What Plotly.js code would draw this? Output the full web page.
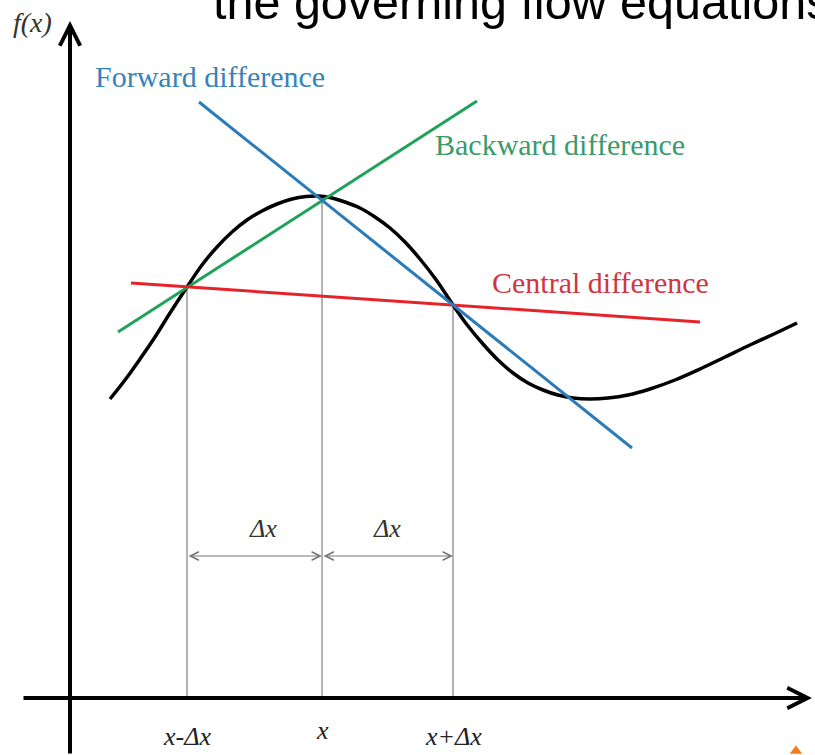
<!DOCTYPE html>
<html>
<head>
<meta charset="utf-8">
<script src="https://cdn.plot.ly/plotly-3.0.1.min.js"></script>
<style>html,body{margin:0;padding:0;background:#fff;}#chart{width:815px;height:755px;}</style>
</head>
<body>
<div id="chart"></div>
<script>
// ---- data (pixel-like coordinate frame, y grows downward) ----
const curveX = [110,125,140,155,170,187,202,217,232,247,262,277,292,306,318,330,345,360,375,390,405,420,437,453,468,483,498,513,528,543,558,573,590,608,628,650,675,700,725,750,775,797];
const curveY = [399,380,359,337,313,287,265,247,232,220,211,204,199,196.5,196,197.5,202,208,217,228,242,259,281,305,326,344,360,373,383,390,395,398,399,398,395,389,380,369,357,345,333.5,323];

const forwardX = [199, 632];
const forwardY = [102, 448];
const backwardX = [118, 477];
const backwardY = [332, 101];
const centralX = [131, 700];
const centralY = [283, 322];

const nodeX = [187, 322, 453];          // x-Δx, x, x+Δx
const nodeY = [287, 197, 305];          // f at those nodes
const tickLabels = ['x-Δx', 'x', 'x+Δx'];
const tickLabelY = [736, 730, 736];

const axisLevel = 698;                  // horizontal axis
const axisOriginX = 70;                 // vertical axis
const xAxisFrom = 22, xAxisTo = 812;
const yAxisFrom = 755, yAxisTo = 21;

const dimY = 556;                       // Δx dimension arrows
const dimLabels = ['Δx', 'Δx'];
const dimLabelX = [263, 387];
const dimLabelY = 528;

const lineNames = ['Forward difference', 'Backward difference', 'Central difference'];
const lineLabelX = [210, 560, 600];
const lineLabelY = [76, 144, 282];
const lineColors = ['#2c7bb9', '#1fa35a', '#e6232b'];
const labelColors = ['#3683b8', '#3a9a6b', '#cf3640'];

const headline = 'the governing flow equations';

const SERIF = '"Liberation Serif", "Times New Roman", Times, serif';
const SANS = '"Liberation Sans", Arial, Helvetica, sans-serif';

// ---- traces ----
const traces = [];
for (let i = 0; i < nodeX.length; i++) {
  traces.push({x:[nodeX[i], nodeX[i]], y:[nodeY[i], axisLevel], mode:'lines',
    line:{color:'#9a9a9a', width:1.5}, hoverinfo:'skip'});
}
traces.push({x:curveX, y:curveY, mode:'lines', line:{color:'#000', width:3.5, shape:'spline', smoothing:1}, hoverinfo:'skip'});
traces.push({x:backwardX, y:backwardY, mode:'lines', line:{color:lineColors[1], width:3}, hoverinfo:'skip'});
traces.push({x:centralX, y:centralY, mode:'lines', line:{color:lineColors[2], width:3}, hoverinfo:'skip'});
traces.push({x:forwardX, y:forwardY, mode:'lines', line:{color:lineColors[0], width:3}, hoverinfo:'skip'});
traces.push({x:[796], y:[751], mode:'markers', marker:{symbol:'triangle-up', size:11, color:'#f07d1e'}, hoverinfo:'skip'});

// ---- annotations ----
const ann = [];
ann.push({x:xAxisTo, y:axisLevel, ax:xAxisFrom, ay:axisLevel, xref:'x', yref:'y', axref:'x', ayref:'y',
  text:'', showarrow:true, arrowhead:5, arrowsize:1, arrowwidth:4, arrowcolor:'#000', standoff:0, startstandoff:0});
ann.push({x:axisOriginX, y:yAxisTo, ax:axisOriginX, ay:yAxisFrom, xref:'x', yref:'y', axref:'x', ayref:'y',
  text:'', showarrow:true, arrowhead:5, arrowsize:1, arrowwidth:4, arrowcolor:'#000', standoff:0, startstandoff:0});
for (let i = 0; i < 2; i++) {
  ann.push({x:nodeX[i+1], y:dimY, ax:nodeX[i], ay:dimY, xref:'x', yref:'y', axref:'x', ayref:'y',
    text:'', showarrow:true, arrowhead:5, startarrowhead:5, arrowside:'end+start', arrowsize:1.4, startarrowsize:1.4,
    arrowwidth:1.2, arrowcolor:'#777', standoff:0, startstandoff:0});
  ann.push({x:dimLabelX[i], y:dimLabelY, xref:'x', yref:'y', text:'<i>'+dimLabels[i]+'</i>', showarrow:false,
    font:{family:SERIF, size:26, color:'#333'}});
}
for (let i = 0; i < nodeX.length; i++) {
  ann.push({x:nodeX[i], y:tickLabelY[i], xref:'x', yref:'y', text:'<i>'+tickLabels[i]+'</i>', showarrow:false,
    font:{family:SERIF, size:26, color:'#222'}});
}
ann.push({x:32, y:22, xref:'x', yref:'y', text:'<i>f(x)</i>', showarrow:false,
  font:{family:SERIF, size:28, color:'#333'}});
ann.push({x:820, y:730, xref:'x', yref:'y', text:'<i>x</i>', showarrow:false,
  font:{family:SERIF, size:26, color:'#333'}});
for (let i = 0; i < 3; i++) {
  ann.push({x:lineLabelX[i], y:lineLabelY[i], xref:'x', yref:'y', text:lineNames[i], showarrow:false,
    font:{family:SERIF, size:30, color:labelColors[i]}});
}
ann.push({x:211, y:2, xref:'x', yref:'y', xanchor:'left', yanchor:'middle', text:headline, showarrow:false,
  font:{family:SANS, size:48.5, color:'#000'}});

const layout = {
  width:815, height:755,
  margin:{l:0, r:0, t:0, b:0, pad:0},
  paper_bgcolor:'#fff', plot_bgcolor:'#fff',
  showlegend:false,
  xaxis:{range:[0,815], visible:false, fixedrange:true},
  yaxis:{range:[755,0], visible:false, fixedrange:true},
  annotations:ann
};
Plotly.newPlot('chart', traces, layout, {displayModeBar:false, staticPlot:true});
</script>
</body>
</html>
